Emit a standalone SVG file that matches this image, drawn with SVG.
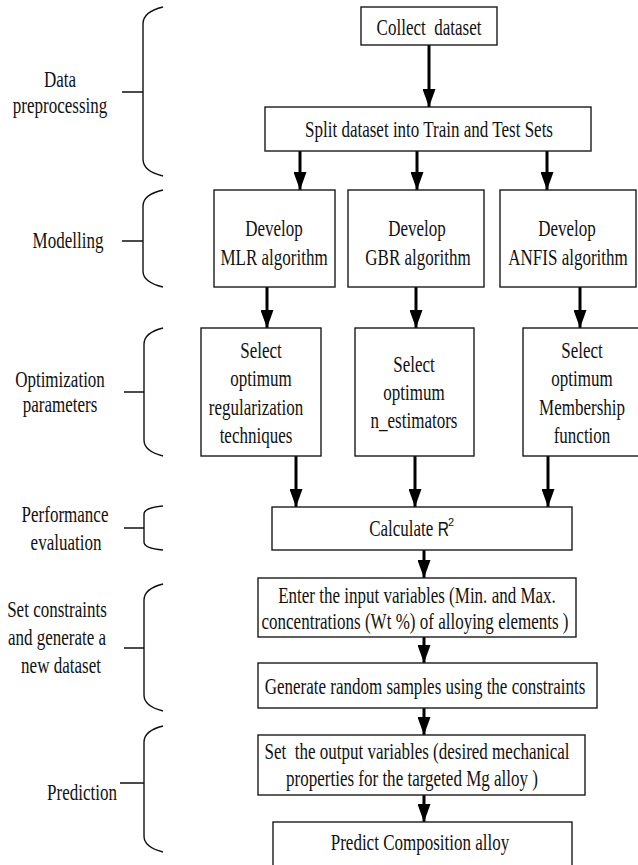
<svg xmlns="http://www.w3.org/2000/svg" width="638" height="865" viewBox="0 0 638 865">
<style>
.bg{fill:#fff}
.box{fill:#fff;stroke:#1a1a1a;stroke-width:1.4}
.t{font-family:"Liberation Serif","Times New Roman",serif;font-size:23px;fill:#111;text-anchor:middle}
.s{font-family:"Liberation Sans",Arial,sans-serif;fill:#111}
.br{fill:none;stroke:#111;stroke-width:1.4}
.ar{stroke:#000;stroke-width:3;fill:none;marker-end:url(#ah)}
</style>
<defs>
<marker id="ah" viewBox="0 0 18 13" refX="18" refY="6.5" markerWidth="18" markerHeight="13" markerUnits="userSpaceOnUse" orient="auto">
<path d="M0,0 L18,6.5 L0,13 z" fill="#000"/>
</marker>
</defs>
<rect class="bg" x="0" y="0" width="638" height="865"/>

<g id="braces">
<path class="br" d="M163,7 C150,10 143,15 143,24 V159 C143,168 150,173 163,176 M122,92 H143"/>
<path class="br" d="M163,190 C150,193 143,198 143,206 V271 C143,279 150,284 163,287 M122,241 H143"/>
<path class="br" d="M163,328 C151,331 144,336 144,344 V440 C144,448 151,453 163,456 M124,392 H144"/>
<path class="br" d="M163,506 C152,507 144,509 144,514 V542 C144,547 152,549 163,550 M124,528 H144"/>
<path class="br" d="M163,584 C151,587 144,592 144,600 V695 C144,703 151,708 163,711 M124,648 H144"/>
<path class="br" d="M163,726 C151,729 144,734 144,742 V836 C144,844 151,849 163,852 M120,783 H144"/>
</g>

<g id="stage-labels">
<text class="t" transform="translate(60,87) scale(0.74,1)">Data</text>
<text class="t" transform="translate(60,113) scale(0.74,1)">preprocessing</text>
<text class="t" transform="translate(68,248) scale(0.74,1)">Modelling</text>
<text class="t" transform="translate(60,387) scale(0.74,1)">Optimization</text>
<text class="t" transform="translate(60,412) scale(0.74,1)">parameters</text>
<text class="t" transform="translate(65,522) scale(0.74,1)">Performance</text>
<text class="t" transform="translate(66,550) scale(0.74,1)">evaluation</text>
<text class="t" transform="translate(57,617) scale(0.74,1)">Set constraints</text>
<text class="t" transform="translate(57,645) scale(0.74,1)">and generate a</text>
<text class="t" transform="translate(61,673) scale(0.74,1)">new dataset</text>
<text class="t" transform="translate(82,800) scale(0.74,1)">Prediction</text>
</g>

<g id="connectors">
<line class="ar" x1="429" y1="45" x2="429" y2="107"/>
<line class="ar" x1="300" y1="151" x2="300" y2="190"/>
<line class="ar" x1="417" y1="151" x2="417" y2="190"/>
<line class="ar" x1="547" y1="151" x2="547" y2="190"/>
<line class="ar" x1="267" y1="287" x2="267" y2="328"/>
<line class="ar" x1="416" y1="287" x2="416" y2="328"/>
<line class="ar" x1="580" y1="287" x2="580" y2="328"/>
<line class="ar" x1="296" y1="456" x2="296" y2="507"/>
<line class="ar" x1="415" y1="456" x2="415" y2="507"/>
<line class="ar" x1="548" y1="456" x2="548" y2="507"/>
<line class="ar" x1="424" y1="550" x2="424" y2="578"/>
<line class="ar" x1="424" y1="637" x2="424" y2="663"/>
<line class="ar" x1="424" y1="708" x2="424" y2="735"/>
<line class="ar" x1="424" y1="795" x2="424" y2="822"/>
</g>

<g id="collect">
<rect class="box" x="361" y="7" width="136" height="38"/>
<text class="t" xml:space="preserve" transform="translate(429,35) scale(0.74,1)">Collect  dataset</text>
</g>
<g id="split">
<rect class="box" x="265" y="107" width="326" height="44"/>
<text class="t" transform="translate(429,137) scale(0.74,1)">Split dataset into Train and Test Sets</text>
</g>

<g id="develop-mlr">
<rect class="box" x="214" y="190" width="121" height="97"/>
<text class="t" transform="translate(274,236) scale(0.74,1)">Develop</text>
<text class="t" transform="translate(274,265) scale(0.74,1)">MLR algorithm</text>
</g>
<g id="develop-gbr">
<rect class="box" x="348" y="190" width="136" height="97"/>
<text class="t" transform="translate(417,236) scale(0.74,1)">Develop</text>
<text class="t" transform="translate(418,265) scale(0.74,1)">GBR algorithm</text>
</g>
<g id="develop-anfis">
<rect class="box" x="500" y="190" width="136" height="97"/>
<text class="t" transform="translate(567,236) scale(0.74,1)">Develop</text>
<text class="t" transform="translate(568,265) scale(0.74,1)">ANFIS algorithm</text>
</g>

<g id="select-mlr">
<rect class="box" x="201" y="328" width="120" height="128"/>
<text class="t" transform="translate(261,358) scale(0.74,1)">Select</text>
<text class="t" transform="translate(261,386) scale(0.74,1)">optimum</text>
<text class="t" transform="translate(256,415) scale(0.74,1)">regularization</text>
<text class="t" transform="translate(256,443) scale(0.74,1)">techniques</text>
</g>
<g id="select-gbr">
<rect class="box" x="355" y="328" width="119" height="128"/>
<text class="t" transform="translate(414,372) scale(0.74,1)">Select</text>
<text class="t" transform="translate(414,400) scale(0.74,1)">optimum</text>
<text class="t" transform="translate(414,428) scale(0.74,1)">n_estimators</text>
</g>
<g id="select-anfis">
<rect class="box" x="523" y="328" width="118" height="128"/>
<text class="t" transform="translate(582,358) scale(0.74,1)">Select</text>
<text class="t" transform="translate(582,386) scale(0.74,1)">optimum</text>
<text class="t" transform="translate(582,415) scale(0.74,1)">Membership</text>
<text class="t" transform="translate(582,443) scale(0.74,1)">function</text>
</g>

<g id="calculate">
<rect class="box" x="272" y="507" width="300" height="43"/>
<text class="t" transform="translate(409,536) scale(0.74,1)">Calculate <tspan class="s" font-size="21">R</tspan></text>
<text class="s" font-size="11" x="448" y="526">2</text>
</g>

<g id="enter">
<rect class="box" x="258" y="578" width="318" height="59"/>
<text class="t" transform="translate(417,603) scale(0.74,1)">Enter the input variables (Min. and Max.</text>
<text class="t" transform="translate(415,629) scale(0.74,1)">concentrations (Wt %) of alloying elements )</text>
</g>
<g id="generate">
<rect class="box" x="258" y="663" width="339" height="45"/>
<text class="t" transform="translate(425,694) scale(0.74,1)">Generate random samples using the constraints</text>
</g>
<g id="set-output">
<rect class="box" x="258" y="735" width="327" height="60"/>
<text class="t" xml:space="preserve" transform="translate(417,759) scale(0.74,1)">Set  the output variables (desired mechanical</text>
<text class="t" transform="translate(412,786) scale(0.74,1)">properties for the targeted Mg alloy )</text>
</g>
<g id="predict">
<rect class="box" x="273" y="822" width="299" height="50"/>
<text class="t" transform="translate(420,850) scale(0.74,1)">Predict Composition alloy</text>
</g>
</svg>
